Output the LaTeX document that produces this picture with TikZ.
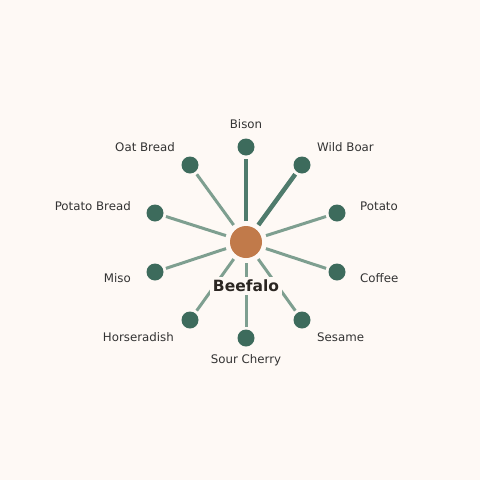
\documentclass[tikz,border=0pt]{standalone}
\usepackage{fontspec}
\setmainfont{DejaVu Sans}
\definecolor{bgc}{HTML}{FEF9F5}
\definecolor{nodec}{HTML}{3D6B5C}
\definecolor{thickc}{HTML}{4F7B6C}
\definecolor{thinc}{HTML}{7E9F90}
\definecolor{centerc}{HTML}{C17A4A}
\definecolor{txtc}{HTML}{333333}
\definecolor{titlec}{HTML}{2B2622}
\tikzset{
  hub/.style={circle, fill=centerc, minimum size=32pt, inner sep=0pt, outer sep=5pt},
  leaf/.style={circle, fill=nodec, minimum size=17pt, inner sep=0pt, outer sep=3pt},
  lbl/.style={text=txtc, font=\fontsize{11.8pt}{13pt}\selectfont, inner sep=0pt},
  strong/.style={draw=thickc, line width=4.5pt},
  weak/.style={draw=thinc, line width=3pt},
  title/.style={text=titlec, fill=bgc, font=\fontsize{15.5pt}{17pt}\selectfont\bfseries, inner sep=3pt}
}
\begin{document}
\begin{tikzpicture}[x=1pt, y=-1pt]
\useasboundingbox[fill=bgc] (0,0) rectangle (480,480);
\node[hub] (c) at (246,242) {};
\node[leaf] (n1) at (246,147) {};
\node[leaf] (n2) at (302,165) {};
\node[leaf] (n3) at (337,213) {};
\node[leaf] (n4) at (337,272) {};
\node[leaf] (n5) at (302,320) {};
\node[leaf] (n6) at (246,338) {};
\node[leaf] (n7) at (190,320) {};
\node[leaf] (n8) at (155,272) {};
\node[leaf] (n9) at (155,213) {};
\node[leaf] (n10) at (190,165) {};
\draw[strong] (c) -- (n1);
\draw[strong] (c) -- (n2);
\draw[weak] (c) -- (n3);
\draw[weak] (c) -- (n4);
\draw[weak] (c) -- (n5);
\draw[weak] (c) -- (n6);
\draw[weak] (c) -- (n7);
\draw[weak] (c) -- (n8);
\draw[weak] (c) -- (n9);
\draw[weak] (c) -- (n10);
\node[title] (t) at (246,286) {Beefalo};
\node[lbl] (l1) at (246,124) {Bison};
\node[lbl, anchor=west] (l2) at (317,147) {Wild Boar};
\node[lbl, anchor=west] (l3) at (360,206) {Potato};
\node[lbl, anchor=west] (l4) at (360,278) {Coffee};
\node[lbl, anchor=west] (l5) at (317,337) {Sesame};
\node[lbl] (l6) at (246,360) {Sour Cherry};
\node[lbl, anchor=east] (l7) at (174,337) {Horseradish};
\node[lbl, anchor=east] (l8) at (131,278) {Miso};
\node[lbl, anchor=east] (l9) at (131,206) {Potato Bread};
\node[lbl, anchor=east] (l10) at (175,147) {Oat Bread};
\end{tikzpicture}
\end{document}
